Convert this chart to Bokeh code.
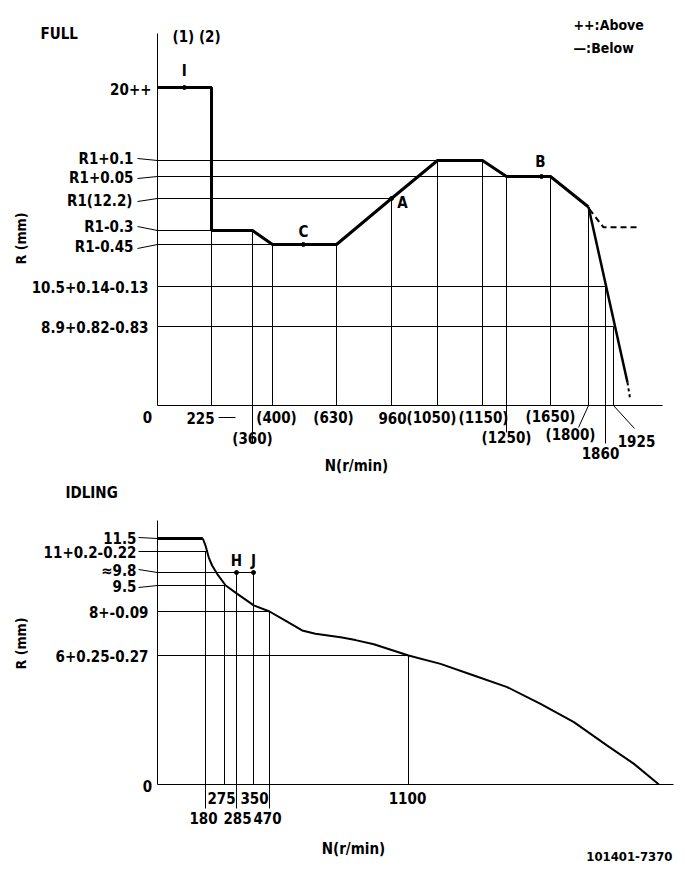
import numpy as np
from bokeh.plotting import figure
from bokeh.models import Range1d
from bokeh.core.properties import value
from bokeh.embed import file_html
from bokeh.resources import INLINE

# ---------------- DATA : FULL ----------------
full_n_ticks = [0, 225, 360, 400, 630, 960, 1050, 1150, 1250, 1650, 1800, 1860, 1925]
full_n_labels = ["0", "225", "(360)", "(400)", "(630)", "960", "(1050)", "(1150)",
                 "(1250)", "(1650)", "(1800)", "1860", "1925"]
full_r_levels = [20, 12.3, 12.25, 12.2, 11.9, 11.75, 10.5, 8.9]
full_r_labels = ["20++", "R1+0.1", "R1+0.05", "R1(12.2)", "R1-0.3", "R1-0.45",
                 "10.5+0.14-0.13", "8.9+0.82-0.83"]
full_curve_n = [0, 225, 225, 360, 400, 630, 960, 1050, 1150, 1250, 1650, 1800]
full_curve_r = [20, 20, 11.9, 11.9, 11.75, 11.75, 12.2, 12.3, 12.3, 12.25, 12.25, 12.12]
full_drop_n = [1800, 1975]
full_drop_r = [12.12, 2.6]
full_tail_n = [1975, 1985]
full_tail_r = [2.6, 0.6]
full_above_n = [1803, 1853, 2021]
full_above_r = [12.1, 11.93, 11.93]
full_points = ["I", "C", "A", "B"]
full_point_n = [112, 511, 960, 1568]
full_point_r = [20, 11.75, 12.2, 12.25]
full_vline_n = [225, 360, 400, 630, 960, 1050, 1150, 1250, 1650, 1800, 1860, 1925]
full_vline_r = [11.9, 11.9, 11.75, 11.75, 12.2, 12.3, 12.3, 12.25, 12.25, 12.12, 10.5, 8.9]
full_hline_r = [12.3, 12.25, 12.2, 11.9, 11.75, 10.5, 8.9]
full_hline_n = [1050, 1250, 960, 225, 400, 1860, 1925]

# ---------------- DATA : IDLING ----------------
idle_n_ticks = [180, 275, 285, 350, 470, 1100]
idle_n_labels = ["180", "275", "285", "350", "470", "1100"]
idle_r_levels = [11.5, 11, 9.8, 9.5, 8, 6]
idle_r_labels = ["11.5", "11+0.2-0.22", "≈9.8", "9.5", "8+-0.09", "6+0.25-0.27"]
idle_curve_n = [0, 170, 180, 196, 213, 238, 276, 288, 352, 470, 542, 618, 678, 792, 860,
                943, 1100, 1245, 1396, 1547, 1698, 1849, 2000, 2121, 2234]
idle_curve_r = [11.5, 11.5, 11.23, 10.67, 10.2, 9.77, 9.5, 9.02, 8.35, 8.0, 7.59, 7.14,
                6.99, 6.83, 6.70, 6.51, 6.0, 5.61, 5.07, 4.53, 3.75, 2.90, 1.81, 0.96, 0]
idle_points = ["H", "J"]
idle_point_n = [285, 350]
idle_point_r = [9.8, 9.8]
idle_vline_n = [180, 275, 285, 350, 470, 1100]
idle_vline_r = [11, 9.5, 9.8, 9.8, 8, 6]
idle_hline_r = [11, 9.8, 9.5, 8, 6]
idle_hline_n = [187, 350, 276, 470, 1100]

# ---------------- LAYOUT (schematic, non-proportional axes) ----------------
F = "DejaVu Sans Condensed"
FS = "15px"
full_x_anchor_n = [0, 225, 360, 400, 630, 960, 1050, 1150, 1250, 1650, 1800, 1860, 1925, 2100]
full_x_anchor_px = [157, 211, 252, 272, 336, 391, 437, 482, 506, 550, 588, 605, 613, 662]
full_y_anchor_r = [0, 8.9, 10.5, 11.75, 11.9, 12.2, 12.25, 12.3, 20, 23]
full_y_anchor_px = [405, 326, 286, 244, 230, 198, 176, 160, 87, 33]
idle_x_anchor_n = [0, 180, 275, 285, 350, 470, 1100, 2300]
idle_x_anchor_px = [157, 205, 224, 236, 253, 269, 408, 673]
idle_y_anchor_r = [0, 6, 8, 9.5, 9.8, 11, 11.5, 13]
idle_y_anchor_px = [784, 655, 611, 585, 572, 551, 538, 520]


def fx(n):
    return list(np.interp(n, full_x_anchor_n, full_x_anchor_px))


def fy(r):
    return list(np.interp(r, full_y_anchor_r, full_y_anchor_px))


def ix(n):
    return list(np.interp(n, idle_x_anchor_n, idle_x_anchor_px))


def iy(r):
    return list(np.interp(r, idle_y_anchor_r, idle_y_anchor_px))


p = figure(width=685, height=872, output_backend="svg", toolbar_location=None,
           x_range=Range1d(0, 685), y_range=Range1d(872, 0), min_border=0)
p.axis.visible = False
p.grid.visible = False
p.outline_line_color = None
p.background_fill_color = "white"
p.border_fill_color = "white"


def txt(xs, ys, texts, size=FS, align="center", bold=True, angle=0.0):
    p.text(x=xs, y=ys, text=texts, text_font=value(F), text_font_size=size,
           text_font_style="bold" if bold else "normal", text_align=align,
           text_baseline="middle", text_color="black", angle=angle)


def seg(x0, y0, x1, y1, w=1.0, dash="solid"):
    p.segment(x0=x0, y0=y0, x1=x1, y1=y1, line_color="black", line_width=w, line_dash=dash)


# ====================== FULL ======================
x0f = fx([0])[0]
y0f = fy([0])[0]
seg([x0f], [fy([23])[0]], [x0f], [y0f])
seg([x0f], [y0f], [fx([2100])[0]], [y0f])
seg([x0f] * len(full_hline_r), fy(full_hline_r), fx(full_hline_n), fy(full_hline_r))
seg(fx(full_vline_n), fy(full_vline_r), fx(full_vline_n), [y0f] * len(full_vline_n))
seg(fx([360, 1250, 1860]), [y0f] * 3, fx([360, 1250, 1860]), [442, 432, 443])
seg(fx([1800, 1925]), [y0f, y0f], [578, 634], [427, 428])
seg([218], [417], [235], [417])
p.line(fx(full_curve_n), fy(full_curve_r), line_color="black", line_width=3)
p.line(fx(full_drop_n), fy(full_drop_r), line_color="black", line_width=2.5)
p.line(fx(full_tail_n), fy(full_tail_r), line_color="black", line_width=2, line_dash="3 3")
p.line(fx(full_above_n), fy(full_above_r), line_color="black", line_width=2, line_dash="6 4")
p.scatter(fx(full_point_n), fy(full_point_r), size=4, color="black")
txt([fx([full_point_n[0]])[0], fx([full_point_n[1]])[0], fx([full_point_n[2]])[0] + 11,
     fx([full_point_n[3]])[0] - 1],
    [70, 231, 202, 161], full_points)

lab_right = [151, 133, 133, 132, 133, 133, 148, 148]
lab_y = [88, 158, 177, 200, 226, 246, 286, 326]
txt(lab_right, lab_y, full_r_labels, align="right")
seg([137] * 5, [158, 178, 201, 226, 248], [x0f] * 5, fy(full_r_levels[1:6]))

nl_x = [147, 200, 252, 276, 333, 392, 431, 483, 506, 550, 570, 600, 636]
nl_y = [416, 417, 438, 417, 417, 417, 417, 417, 437, 416, 434, 452, 440]
txt(nl_x, nl_y, full_n_labels)
txt([356], [465], ["N(r/min)"])
txt([20], [238], ["R (mm)"], size="14px", angle=np.pi / 2)
txt([40], [33], ["FULL"], align="left")
txt([172], [36], ["(1) (2)"], align="left")
txt([573, 573], [24, 47], ["++:Above", "—:Below"], size="14px", align="left")

# ====================== IDLING ======================
x0i = ix([0])[0]
y0i = iy([0])[0]
seg([x0i], [iy([13])[0]], [x0i], [y0i])
seg([x0i], [y0i], [ix([2300])[0]], [y0i])
hx0 = [138, x0i, x0i, x0i, x0i]
seg(hx0, iy(idle_hline_r), ix(idle_hline_n), iy(idle_hline_r))
seg(ix(idle_vline_n), iy(idle_vline_r), ix(idle_vline_n), [y0i] * len(idle_vline_n))
seg(ix([180, 285, 470]), [y0i] * 3, ix([180, 285, 470]), [808] * 3)
p.line(ix(idle_curve_n[:2]), iy(idle_curve_r[:2]), line_color="black", line_width=3)
p.line(ix(idle_curve_n[1:]), iy(idle_curve_r[1:]), line_color="black", line_width=2)
p.scatter(ix(idle_point_n), iy(idle_point_r), size=4, color="black")
txt(ix(idle_point_n), [560, 560], idle_points)

il_right = [136, 136, 136, 136, 148, 148]
il_y = [537, 551, 570, 585, 611, 655]
txt(il_right, il_y, idle_r_labels, align="right")
seg([138, 138, 138], [537, 569, 587], [x0i] * 3, iy([11.5, 9.8, 9.5]))

txt([147], [785], ["0"])
txt([221, 254, 407, 203, 237, 267], [797, 797, 797, 817, 817, 817],
    ["275", "350", "1100", "180", "285", "470"])
txt([353], [848], ["N(r/min)"])
txt([20], [643], ["R (mm)"], size="14px", angle=np.pi / 2)
txt([65], [492], ["IDLING"], align="left")
txt([672], [856], ["101401-7370"], size="13px", align="right")

open("out.html", "w").write(file_html(p, INLINE))
